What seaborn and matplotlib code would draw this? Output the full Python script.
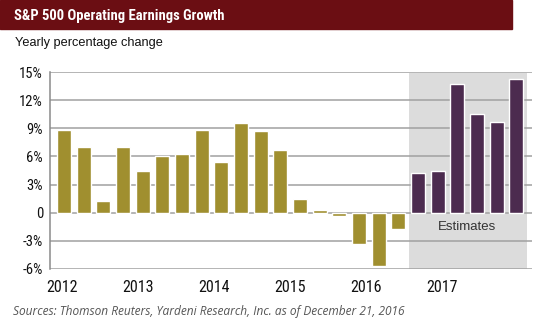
import numpy as np
import pandas as pd
import matplotlib
matplotlib.use("Agg")
import matplotlib.pyplot as plt
import seaborn as sns
from matplotlib.patches import Rectangle
from matplotlib import font_manager as fm

# ---- data ----
quarters = [f"{y}Q{q}" for y in range(2012, 2018) for q in range(1, 5)]
growth = [8.8, 7.0, 1.2, 7.0,
          4.5, 6.0, 6.3, 8.8,
          5.4, 9.6, 8.7, 6.7,
          1.5, 0.3, -0.3, -3.3,
          -5.7, -1.7, 4.2, 4.5,
          13.7, 10.5, 9.7, 14.3]
kind = ["Actual"] * 18 + ["Estimate"] * 6
year_labels = ["2012", "2013", "2014", "2015", "2016", "2017"]
y_ticks = [-6, -3, 0, 3, 6, 9, 12, 15]
y_tick_labels = ["-6%", "-3%", "0", "3%", "6%", "9%", "12%", "15%"]

df = pd.DataFrame({"quarter": quarters, "growth": growth, "kind": kind})

sns.set_theme(style="white")
plt.rcParams["font.family"] = ["Liberation Sans", "DejaVu Sans"]

names = {f.name for f in fm.fontManager.ttflist}
cond = [n for n in ["Liberation Sans Narrow", "DejaVu Sans Condensed", "Roboto Condensed"] if n in names]
narrow = cond + ["DejaVu Sans"]
stretch = "condensed"

fig = plt.figure(figsize=(5.4, 3.28), dpi=100)
ax = fig.add_axes([50 / 540, 1 - 269 / 328, (532 - 50) / 540, (269 - 72) / 328])

# estimates shading
ax.axvspan(17.55, 23.55, ymin=0, ymax=0.995, color="#dcdcdc", zorder=0.1, lw=0)

sns.barplot(data=df, x="quarter", y="growth", hue="kind", order=quarters,
            palette={"Actual": "#a08f2f", "Estimate": "#4c2b4f"},
            dodge=False, width=0.71, legend=False, ax=ax, zorder=2,
            saturation=1)

ax.set_xlim(-0.71, 23.8)
ax.set_ylim(-6, 15)
ax.set_axisbelow(True)
ax.yaxis.grid(True, color="#a0a0a0", lw=1.1, zorder=0.5)
ax.xaxis.grid(False)
ax.set_yticks(y_ticks)
ax.set_yticklabels(y_tick_labels, fontsize=10.5, family=narrow, fontstretch=stretch,
                   color="#111111")
ax.tick_params(axis="y", length=3, color="#a0a0a0", width=1.1, pad=2)
xt = np.arange(len(year_labels)) * 3.86 - 0.1
ax.set_xticks(xt)
ax.set_xticklabels(year_labels, fontsize=11.5, family=narrow, fontstretch=stretch,
                   color="#111111")
ax.tick_params(axis="x", length=0, pad=8)
ax.set_xlabel("")
ax.set_ylabel("")
for s in ["top", "right", "bottom"]:
    ax.spines[s].set_visible(False)
ax.spines["left"].set_color("#8a8a8a")
ax.spines["left"].set_linewidth(1.1)

ax.text(20.5, -1.5, "Estimates", ha="center", va="center", fontsize=9.5,
        color="#333333", zorder=3)

# title banner
fig.patches.append(Rectangle((0, 1 - 29 / 328), 512 / 540, 29 / 328,
                             transform=fig.transFigure, color="#6b0e13", zorder=0))
fig.text(14 / 540, 1 - 16 / 328, "S&P 500 Operating Earnings Growth",
         fontsize=10.5, fontweight="bold", color="white", family=narrow,
         fontstretch=stretch, ha="left", va="center")
fig.text(15 / 540, 1 - 43 / 328, "Yearly percentage change", fontsize=9.2,
         color="#111111", ha="left", va="center")
fig.text(13 / 540, 1 - 312 / 328,
         "Sources: Thomson Reuters, Yardeni Research, Inc. as of December 21, 2016",
         fontsize=8.6, style="italic", color="#555555", family=["Open Sans", "DejaVu Sans"],
         ha="left", va="center")

fig.savefig("out.png", dpi=100)
